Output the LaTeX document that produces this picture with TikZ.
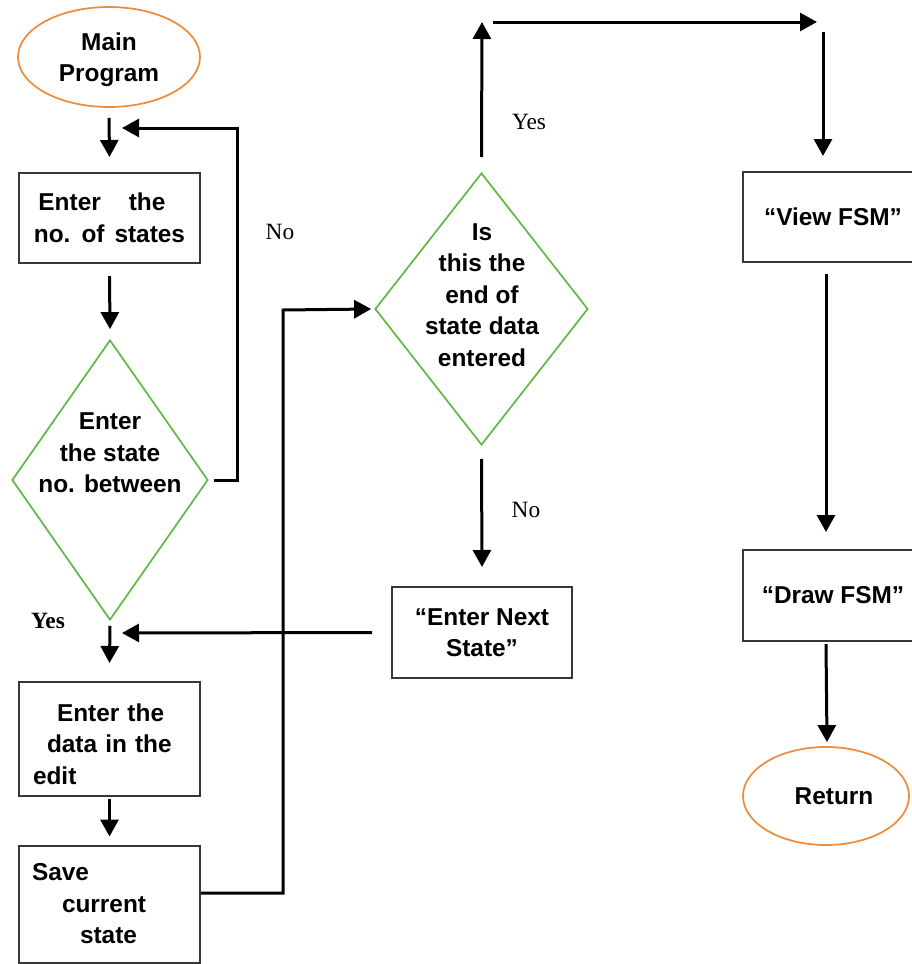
\documentclass[tikz,border=0pt]{standalone}
\usepackage{fontspec}
\setmainfont{Liberation Sans}
\newfontfamily\labelfont{Liberation Serif}
\usetikzlibrary{shapes.geometric,arrows.meta,calc}

\definecolor{decgreen}{RGB}{96,186,72}
\definecolor{termorange}{RGB}{238,140,60}
\definecolor{boxgray}{RGB}{55,55,55}

\tikzset{
  txt/.style={font=\fontsize{18.3}{23.6}\selectfont\bfseries, align=center, inner sep=0pt},
  stepbox/.style={txt, draw=boxgray, line width=1.5pt, rectangle,
    minimum width=135.75pt, minimum height=67.5pt},
  terminal/.style={txt, draw=termorange, line width=1.3pt, ellipse,
    minimum width=136.5pt, minimum height=75pt},
  decision/.style={draw=decgreen, line width=1.3pt, diamond, inner sep=0pt},
  flow/.style={line width=2.25pt, -{Triangle[length=12.75pt,width=13.5pt]}},
  answer/.style={font=\labelfont\fontsize{17.5}{20}\selectfont, inner sep=0pt},
}

\begin{document}
\begin{tikzpicture}[x=0.75pt, y=-0.75pt]
\useasboundingbox (0,0) rectangle (912,964);

% ---------- left column ----------
\node[terminal] (main) at (109,57) {\rule{0pt}{17.5pt}Main\\Program};
\node[stepbox, align=left] (count) at (109.5,218)
  {\hspace*{3.4pt}Enter\hspace{21pt}the\\no.\hspace{8.25pt}of\hspace{7.5pt}states};
\node[decision, minimum width=147pt, minimum height=210pt] (range) at (110,480) {};
\node[txt] (rangetxt) at (110,453) {Enter\\the state\\no. between};
\node[stepbox, minimum height=85.5pt, text width=114.75pt, inner xsep=10.5pt, align=left]
  (edit) at (109.5,739)
  {\hspace*{18pt}\rule{0pt}{20.5pt}Enter the\\\hspace*{10.5pt}data in the\\edit};
\node[stepbox, minimum height=87.75pt, text width=116.25pt, inner xsep=9.75pt, align=left]
  (save) at (109.5,904)
  {Save\\\hspace*{22.5pt}current\\\hspace*{36pt}state};

% ---------- middle column ----------
\node[decision, minimum width=159.75pt, minimum height=204pt] (last) at (481.5,309) {};
\node[txt] (lasttxt) at (482,295) {Is\\this the\\end of\\state data\\entered};
\node[stepbox, minimum width=135pt, minimum height=68.25pt] (next) at (482,632.5)
  {“Enter Next\\State”};

% ---------- right column ----------
\node[stepbox, minimum width=135pt] (view) at (833,217) {“View FSM”};
\node[stepbox, minimum width=135pt, minimum height=68.25pt] (drawfsm) at (833,595.5) {“Draw FSM”};
\node[terminal, minimum width=124.5pt, minimum height=73.5pt] (ret) at (826,796)
  {\hspace*{12pt}Return};

% ---------- junction points ----------
\coordinate (loopin) at (122,128);
\coordinate (mergein) at (122,633);
\coordinate (yesup) at (482,22);
\coordinate (topstart) at (493,22);
\coordinate (topend) at (817,22);
\coordinate (downstart) at (823,32);

% ---------- connectors ----------
\draw[flow] ($(main.south)+(0,10)$) -- ($(count.north)+(0,-15)$);
\draw[flow] ($(count.south)+(0,12)$) -- ($(range.north)+(0,-10)$);
\draw[flow] ($(range.east)+(5,0)$) -| (237,128) -- (loopin);
\draw[flow] ($(range.south)+(0,5)$) -- ($(edit.north)+(0,-18)$);
\draw[flow] ($(edit.south)+(0,2)$) -- ($(save.north)+(0,-8)$);
\draw[flow] ($(save.east)+(0,-11)$) -| (283,310) -- ($(last.west)+(-3,0)$);
\draw[flow] ($(last.north)+(0,-15)$) -- (yesup);
\draw[flow] ($(last.south)+(0,13)$) -- ($(next.north)+(0,-19)$);
\draw[flow] ($(next.west)+(-19,0)$) -- (mergein);
\draw[flow] (topstart) -- (topend);
\draw[flow] (downstart) -- ($(view.north)+(-10,-15)$);
\draw[flow] ($(view.south)+(-7,11)$) -- ($(drawfsm.north)+(-7,-17)$);
\draw[flow] ($(drawfsm.south)+(-7,2)$) -- ($(ret.north)+(1,-4)$);

% ---------- branch labels ----------
\node[answer] (noA) at (280,232) {No};
\node[answer, font=\labelfont\bfseries\fontsize{17.5}{20}\selectfont] (yesA) at (48,621) {Yes};
\node[answer] (yesB) at (529,122) {Yes};
\node[answer] (noB) at (526,510) {No};
\end{tikzpicture}
\end{document}
